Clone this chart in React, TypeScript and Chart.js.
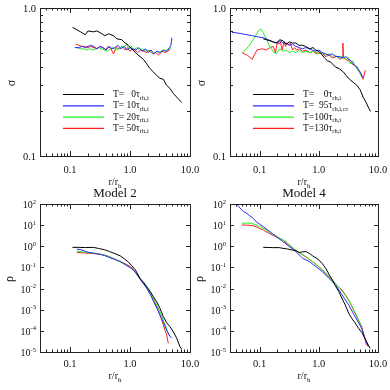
import React, { useEffect, useRef } from "react";
import { Chart, registerables } from "chart.js";
Chart.register(...registerables);

const SERIF = '"Liberation Serif", "Times New Roman", "DejaVu Serif", serif';

// ---------- tick values / labels ----------
const xMin = 0.0316;
const xMax = 10;
const xMajorTicks = [0.1, 1, 10];
const xMajorLabels = ["0.1", "1.0", "10.0"];
const xMinorTicks = [0.04, 0.05, 0.06, 0.07, 0.08, 0.09, 0.2, 0.3, 0.4, 0.5, 0.6, 0.7, 0.8, 0.9, 2, 3, 4, 5, 6, 7, 8, 9];
const sigmaMajorTicks = [0.1, 1];
const sigmaMajorLabels = ["0.1", "1.0"];
const sigmaMinorTicks = [0.2, 0.3, 0.4, 0.5, 0.6, 0.7, 0.8, 0.9];
const rhoExponents = [2, 1, 0, -1, -2, -3, -4, -5];

// ---------- legend text ----------
const model2Times = ["0", "10", "20", "50"];
const model2Subs = ["rh,i", "rh,i", "rh,i", "rh,i"];
const model4Times = ["0", "95", "100", "130"];
const model4Subs = ["rh,i", "rh,i,cc", "rh,i", "rh,i"];

// ---------- Model 2: sigma ----------
const m2SigR0 = [0.11, 0.15, 0.18, 0.2, 0.245, 0.28, 0.32, 0.38, 0.44, 0.53, 0.6, 0.73, 0.83, 0.94, 1.07, 1.29, 1.47, 1.67, 1.9, 2.15, 2.45, 2.78, 3.16, 3.59, 4.08, 4.64, 5.27, 6.0, 6.6, 7.26];
const m2Sig0 = [0.74, 0.69, 0.66, 0.7, 0.69, 0.7, 0.68, 0.65, 0.67, 0.65, 0.62, 0.61, 0.58, 0.56, 0.53, 0.49, 0.47, 0.45, 0.42, 0.39, 0.37, 0.35, 0.335, 0.33, 0.3, 0.286, 0.265, 0.25, 0.24, 0.23];
const m2SigR10 = [0.12, 0.14, 0.16, 0.18, 0.2, 0.22, 0.25, 0.28, 0.32, 0.36, 0.4, 0.45, 0.5, 0.56, 0.63, 0.7, 0.8, 0.9, 1.0, 1.1, 1.25, 1.4, 1.6, 1.8, 2.0, 2.25, 2.5, 2.8, 3.2, 3.6, 4.0, 4.5, 4.8, 5.0];
const m2Sig10 = [0.54, 0.54, 0.55, 0.54, 0.55, 0.56, 0.55, 0.53, 0.55, 0.54, 0.52, 0.55, 0.53, 0.54, 0.56, 0.53, 0.55, 0.52, 0.54, 0.53, 0.52, 0.54, 0.51, 0.53, 0.5, 0.52, 0.49, 0.51, 0.5, 0.52, 0.51, 0.53, 0.56, 0.63];
const m2SigR20 = [0.13, 0.15, 0.17, 0.19, 0.21, 0.24, 0.27, 0.3, 0.34, 0.38, 0.42, 0.47, 0.52, 0.58, 0.65, 0.72, 0.8, 0.88, 0.96, 1.05, 1.15, 1.3, 1.45, 1.6, 1.8, 2.0, 2.25, 2.5, 2.8, 3.1, 3.5, 3.9, 4.3, 4.8];
const m2Sig20 = [0.54, 0.53, 0.53, 0.52, 0.53, 0.52, 0.53, 0.54, 0.53, 0.52, 0.51, 0.53, 0.54, 0.52, 0.53, 0.55, 0.54, 0.57, 0.53, 0.55, 0.52, 0.54, 0.52, 0.53, 0.51, 0.52, 0.5, 0.49, 0.51, 0.5, 0.52, 0.51, 0.53, 0.54];
const m2SigR50 = [0.125, 0.14, 0.16, 0.18, 0.2, 0.22, 0.25, 0.28, 0.31, 0.35, 0.39, 0.43, 0.48, 0.53, 0.59, 0.66, 0.74, 0.82, 0.9, 1.0, 1.1, 1.2, 1.35, 1.5, 1.7, 1.9, 2.1, 2.4, 2.7, 3.0, 3.4, 3.8, 4.2, 4.6];
const m2Sig50 = [0.57, 0.56, 0.55, 0.55, 0.54, 0.55, 0.54, 0.53, 0.55, 0.54, 0.52, 0.55, 0.53, 0.49, 0.54, 0.53, 0.55, 0.52, 0.54, 0.51, 0.53, 0.52, 0.5, 0.52, 0.51, 0.5, 0.52, 0.49, 0.5, 0.48, 0.51, 0.5, 0.51, 0.52];

// ---------- Model 4: sigma ----------
const m4SigR0 = [0.115, 0.13, 0.15, 0.17, 0.19, 0.22, 0.25, 0.28, 0.32, 0.36, 0.41, 0.46, 0.53, 0.6, 0.7, 0.8, 0.89, 1.0, 1.1, 1.25, 1.4, 1.6, 1.9, 2.2, 2.6, 2.9, 3.3, 3.8, 4.4, 5.0, 5.6, 6.3, 7.0, 7.5];
const m4Sig0 = [0.62, 0.61, 0.6, 0.59, 0.58, 0.61, 0.6, 0.57, 0.59, 0.58, 0.58, 0.56, 0.56, 0.55, 0.53, 0.54, 0.52, 0.51, 0.49, 0.46, 0.44, 0.43, 0.4, 0.39, 0.37, 0.35, 0.33, 0.315, 0.3, 0.28, 0.25, 0.23, 0.21, 0.2];
const m4SigR95 = [0.034, 0.04, 0.05, 0.061, 0.075, 0.09, 0.115, 0.14, 0.17, 0.2, 0.22, 0.25, 0.28, 0.32, 0.36, 0.41, 0.47, 0.53, 0.6, 0.7, 0.78, 0.9, 1.0, 1.15, 1.3, 1.49, 1.7, 1.9, 2.2, 2.6, 2.9, 3.16, 3.5, 4.0, 4.4, 5.0, 5.6];
const m4Sig95 = [0.685, 0.68, 0.67, 0.66, 0.65, 0.64, 0.63, 0.61, 0.59, 0.58, 0.6, 0.58, 0.58, 0.56, 0.57, 0.55, 0.54, 0.53, 0.54, 0.53, 0.52, 0.51, 0.52, 0.5, 0.49, 0.48, 0.49, 0.47, 0.47, 0.46, 0.47, 0.45, 0.44, 0.41, 0.4, 0.37, 0.34];
const m4SigR100 = [0.052, 0.065, 0.08, 0.095, 0.105, 0.115, 0.13, 0.145, 0.157, 0.175, 0.19, 0.22, 0.25, 0.28, 0.32, 0.36, 0.41, 0.47, 0.53, 0.6, 0.7, 0.8, 0.9, 1.0, 1.15, 1.3, 1.5, 1.7, 1.9, 2.2, 2.5, 2.9, 3.2, 3.4, 3.7, 4.2, 4.8, 5.5];
const m4Sig100 = [0.5, 0.55, 0.62, 0.7, 0.72, 0.68, 0.62, 0.56, 0.53, 0.5, 0.49, 0.53, 0.51, 0.52, 0.5, 0.51, 0.5, 0.52, 0.5, 0.51, 0.5, 0.51, 0.5, 0.49, 0.5, 0.48, 0.49, 0.47, 0.48, 0.46, 0.47, 0.45, 0.46, 0.42, 0.44, 0.4, 0.37, 0.34];
const m4SigR130 = [0.05, 0.062, 0.075, 0.09, 0.11, 0.13, 0.15, 0.17, 0.185, 0.2, 0.21, 0.225, 0.24, 0.26, 0.275, 0.29, 0.31, 0.33, 0.36, 0.39, 0.42, 0.47, 0.53, 0.6, 0.7, 0.8, 0.9, 1.0, 1.15, 1.3, 1.5, 1.7, 2.0, 2.3, 2.5, 2.55, 2.62, 2.8, 3.2, 3.6, 4.0, 4.5, 5.0, 5.6, 6.1];
const m4Sig130 = [0.5, 0.48, 0.45, 0.52, 0.53, 0.52, 0.54, 0.55, 0.5, 0.59, 0.57, 0.59, 0.52, 0.59, 0.55, 0.58, 0.56, 0.58, 0.52, 0.54, 0.52, 0.53, 0.51, 0.52, 0.5, 0.51, 0.49, 0.5, 0.49, 0.47, 0.48, 0.46, 0.47, 0.45, 0.46, 0.58, 0.46, 0.45, 0.44, 0.42, 0.41, 0.39, 0.36, 0.33, 0.38];

// ---------- Model 2: rho ----------
const m2RhoR0 = [0.11, 0.14, 0.18, 0.245, 0.3, 0.38, 0.46, 0.56, 0.69, 0.8, 0.92, 1.07, 1.23, 1.47, 1.7, 1.9, 2.15, 2.45, 2.78, 3.16, 3.6, 4.08, 4.64, 5.27, 6.0, 6.8, 7.26];
const m2Rho0 = [0.89, 0.89, 0.87, 0.89, 0.79, 0.68, 0.56, 0.45, 0.35, 0.26, 0.19, 0.12, 0.076, 0.03, 0.019, 0.0123, 0.0076, 0.0042, 0.0024, 0.00117, 0.00047, 0.000245, 0.000158, 0.000091, 0.000045, 0.0000178, 0.0000138];
const m2RhoR10 = [0.13, 0.147, 0.17, 0.2, 0.25, 0.316, 0.38, 0.46, 0.56, 0.69, 0.85, 1.07, 1.25, 1.47, 1.7, 1.9, 2.2, 2.45, 2.8, 3.16, 3.6, 4.08, 4.64, 4.95];
const m2Rho10 = [0.74, 0.7, 0.62, 0.52, 0.47, 0.42, 0.36, 0.29, 0.24, 0.19, 0.13, 0.088, 0.055, 0.028, 0.016, 0.0103, 0.005, 0.0026, 0.0012, 0.00056, 0.00025, 0.00011, 0.000054, 0.000048];
const m2RhoR20 = [0.13, 0.15, 0.18, 0.22, 0.27, 0.32, 0.4, 0.5, 0.6, 0.75, 0.92, 1.07, 1.25, 1.47, 1.7, 1.95, 2.25, 2.6, 3.0, 3.4, 3.8, 4.35];
const m2Rho20 = [0.6, 0.56, 0.52, 0.49, 0.46, 0.42, 0.36, 0.28, 0.22, 0.16, 0.12, 0.085, 0.055, 0.03, 0.017, 0.0098, 0.0052, 0.0026, 0.0011, 0.0005, 0.00021, 0.00007];
const m2RhoR50 = [0.13, 0.16, 0.2, 0.25, 0.316, 0.38, 0.46, 0.6, 0.75, 0.92, 1.07, 1.23, 1.47, 1.7, 1.9, 2.2, 2.45, 2.8, 3.16, 3.6, 4.08, 4.35];
const m2Rho50 = [0.51, 0.49, 0.47, 0.45, 0.42, 0.38, 0.32, 0.22, 0.17, 0.13, 0.095, 0.06, 0.03, 0.017, 0.0105, 0.0055, 0.0029, 0.0013, 0.00056, 0.00019, 0.000063, 0.000026];

// ---------- Model 4: rho ----------
const m4RhoR0 = [0.115, 0.14, 0.17, 0.21, 0.248, 0.3, 0.36, 0.42, 0.47, 0.54, 0.61, 0.7, 0.78, 0.9, 1.01, 1.15, 1.31, 1.5, 1.7, 1.95, 2.18, 2.5, 2.8, 3.2, 3.6, 4.1, 4.7, 5.3, 6.0, 6.7, 7.4];
const m4Rho0 = [0.89, 0.88, 0.86, 0.87, 0.8, 0.74, 0.66, 0.6, 0.51, 0.55, 0.56, 0.45, 0.36, 0.28, 0.22, 0.15, 0.091, 0.045, 0.025, 0.012, 0.0071, 0.0032, 0.00166, 0.00068, 0.00039, 0.00024, 0.000132, 0.000085, 0.000045, 0.000024, 0.0000148];
const m4RhoR95 = [0.041, 0.053, 0.061, 0.069, 0.078, 0.089, 0.101, 0.115, 0.149, 0.192, 0.248, 0.32, 0.41, 0.535, 0.69, 0.89, 1.15, 1.49, 1.92, 2.47, 3.2, 4.1, 5.3, 6.0, 6.8];
const m4Rho95 = [96, 44, 36, 27, 21, 14, 11, 8.5, 4.9, 2.85, 1.66, 0.96, 0.56, 0.27, 0.19, 0.11, 0.063, 0.03, 0.0148, 0.005, 0.00166, 0.00047, 0.000132, 0.000045, 0.0000178];
const m4RhoR100 = [0.05, 0.062, 0.073, 0.085, 0.101, 0.125, 0.149, 0.18, 0.22, 0.28, 0.34, 0.41, 0.5, 0.61, 0.78, 1.0, 1.3, 1.7, 2.2, 2.8, 3.4, 4.1, 5.0, 5.8];
const m4Rho100 = [12.3, 12.5, 12.3, 10.5, 8.5, 6.3, 4.4, 3.4, 2.4, 1.66, 1.0, 0.66, 0.45, 0.32, 0.19, 0.11, 0.055, 0.025, 0.0115, 0.0048, 0.0021, 0.00075, 0.00022, 0.00006];
const m4RhoR130 = [0.05, 0.062, 0.078, 0.095, 0.115, 0.14, 0.17, 0.2, 0.248, 0.3, 0.36, 0.44, 0.535, 0.65, 0.78, 0.95, 1.15, 1.4, 1.7, 2.05, 2.47, 3.2, 4.1, 5.3, 6.4];
const m4Rho130 = [10.2, 10.0, 9.5, 7.5, 5.9, 4.3, 3.2, 2.6, 2.0, 1.2, 0.79, 0.55, 0.39, 0.27, 0.19, 0.12, 0.076, 0.042, 0.025, 0.014, 0.0085, 0.0029, 0.00068, 0.00016, 0.0000214];

const COLORS = ["#000000", "#2a2aff", "#22ee22", "#ff1f1f"];

type Series = { r: number[]; v: number[] };
type PanelCfg = {
  key: string;
  L: number; R: number; T: number; B: number;
  kind: "sigma" | "rho";
  series: Series[];
  legendTimes?: string[];
  legendSubs?: string[];
  legendPad?: string;
  title?: string;
};

const panels: PanelCfg[] = [
  { key: "tl", L: 40, R: 190, T: 8, B: 156, kind: "sigma",
    series: [{ r: m2SigR0, v: m2Sig0 }, { r: m2SigR10, v: m2Sig10 }, { r: m2SigR20, v: m2Sig20 }, { r: m2SigR50, v: m2Sig50 }],
    legendTimes: model2Times, legendSubs: model2Subs, legendPad: " 00" },
  { key: "tr", L: 230, R: 378, T: 8, B: 156, kind: "sigma",
    series: [{ r: m4SigR0, v: m4Sig0 }, { r: m4SigR95, v: m4Sig95 }, { r: m4SigR100, v: m4Sig100 }, { r: m4SigR130, v: m4Sig130 }],
    legendTimes: model4Times, legendSubs: model4Subs, legendPad: "000" },
  { key: "bl", L: 40, R: 190, T: 204, B: 352, kind: "rho", title: "Model 2",
    series: [{ r: m2RhoR0, v: m2Rho0 }, { r: m2RhoR10, v: m2Rho10 }, { r: m2RhoR20, v: m2Rho20 }, { r: m2RhoR50, v: m2Rho50 }] },
  { key: "br", L: 230, R: 378, T: 204, B: 352, kind: "rho", title: "Model 4",
    series: [{ r: m4RhoR0, v: m4Rho0 }, { r: m4RhoR95, v: m4Rho95 }, { r: m4RhoR100, v: m4Rho100 }, { r: m4RhoR130, v: m4Rho130 }] },
];

type Part = { t: string; size: number; dy: number };
function drawRich(ctx: CanvasRenderingContext2D, parts: Part[], x: number, y: number, align: "left" | "center" | "right") {
  let total = 0;
  const widths = parts.map((p) => {
    ctx.font = `${p.size}px ${SERIF}`;
    const w = ctx.measureText(p.t).width;
    total += w;
    return w;
  });
  let cx = align === "left" ? x : align === "center" ? x - total / 2 : x - total;
  ctx.textAlign = "left";
  ctx.textBaseline = "alphabetic";
  parts.forEach((p, i) => {
    ctx.font = `${p.size}px ${SERIF}`;
    ctx.fillText(p.t, cx, y + p.dy);
    cx += widths[i];
  });
}

function makePlugin(cfg: PanelCfg) {
  return {
    id: "idlFrame" + cfg.key,
    afterDatasetsDraw(chart: any) {
      const ctx: CanvasRenderingContext2D = chart.ctx;
      const a = chart.chartArea;
      const xs = chart.scales.x;
      const ys = chart.scales.y;
      ctx.save();
      ctx.strokeStyle = "#222";
      ctx.fillStyle = "#111";
      ctx.lineWidth = 1;
      // frame
      ctx.strokeRect(a.left + 0.5, a.top + 0.5, a.right - a.left, a.bottom - a.top);
      // ticks
      ctx.beginPath();
      const xt = (vals: number[], len: number) => {
        for (const v of vals) {
          const p = Math.round(xs.getPixelForValue(v)) + 0.5;
          ctx.moveTo(p, a.bottom); ctx.lineTo(p, a.bottom - len);
          ctx.moveTo(p, a.top); ctx.lineTo(p, a.top + len);
        }
      };
      const yt = (vals: number[], len: number) => {
        for (const v of vals) {
          const p = Math.round(ys.getPixelForValue(v)) + 0.5;
          ctx.moveTo(a.left, p); ctx.lineTo(a.left + len, p);
          ctx.moveTo(a.right, p); ctx.lineTo(a.right - len, p);
        }
      };
      xt(xMajorTicks, 5);
      xt(xMinorTicks, 2.5);
      if (cfg.kind === "sigma") {
        yt(sigmaMinorTicks, 3);
      } else {
        yt(rhoExponents.map((e) => Math.pow(10, e)), 4);
      }
      ctx.stroke();

      // x tick labels
      const bottomPanel = cfg.kind === "rho";
      const xlabBase = a.bottom + (bottomPanel ? 15 : 17);
      ctx.font = `10.5px ${SERIF}`;
      ctx.textAlign = "center";
      ctx.textBaseline = "alphabetic";
      xMajorTicks.forEach((v, i) => {
        ctx.fillText(xMajorLabels[i], xs.getPixelForValue(v), xlabBase);
      });
      // x title r/r_h
      const xtBase = a.bottom + (bottomPanel ? 27 : 29);
      drawRich(ctx, [
        { t: "r/r", size: 10, dy: 0 },
        { t: "h", size: 7, dy: 3 },
      ], (a.left + a.right) / 2, xtBase, "center");

      // y tick labels
      if (cfg.kind === "sigma") {
        ctx.font = `10.5px ${SERIF}`;
        ctx.textAlign = "right";
        ctx.textBaseline = "middle";
        sigmaMajorTicks.forEach((v, i) => {
          ctx.fillText(sigmaMajorLabels[i], a.left - 4, ys.getPixelForValue(v) + 1.5);
        });
      } else {
        rhoExponents.forEach((e) => {
          const py = ys.getPixelForValue(Math.pow(10, e));
          drawRich(ctx, [
            { t: "10", size: 10, dy: 0 },
            { t: String(e), size: 6.5, dy: -4.5 },
          ], a.left - 4, py + 4, "right");
        });
      }

      // y axis title (rotated)
      ctx.save();
      const ytx = a.left - (cfg.kind === "sigma" ? 28 : 30);
      const yty = (a.top + a.bottom) / 2 + 1;
      ctx.translate(ytx, yty);
      ctx.rotate(-Math.PI / 2);
      ctx.font = `12px ${SERIF}`;
      ctx.textAlign = "center";
      ctx.textBaseline = "middle";
      ctx.fillText(cfg.kind === "sigma" ? "σ" : "ρ", 0, 0);
      ctx.restore();

      // title
      if (cfg.title) {
        ctx.font = `13px ${SERIF}`;
        ctx.textAlign = "center";
        ctx.textBaseline = "alphabetic";
        ctx.fillText(cfg.title, (a.left + a.right) / 2, a.top - 7);
      }

      // legend
      if (cfg.legendTimes && cfg.legendSubs) {
        for (let i = 0; i < cfg.legendTimes.length; i++) {
          const ly = a.top + 86 + i * 11.3;
          ctx.beginPath();
          ctx.strokeStyle = COLORS[i];
          ctx.lineWidth = 1.2;
          ctx.moveTo(a.left + 23, ly + 0.5);
          ctx.lineTo(a.left + 64, ly + 0.5);
          ctx.stroke();
          const tx = a.left + 73;
          const base = ly + 3;
          ctx.fillStyle = "#111";
          ctx.font = `9.5px ${SERIF}`;
          ctx.textAlign = "left";
          ctx.textBaseline = "alphabetic";
          ctx.fillText("T=", tx, base);
          const wT = ctx.measureText("T=").width;
          const wPad = ctx.measureText(cfg.legendPad || "000").width;
          ctx.textAlign = "right";
          ctx.fillText(cfg.legendTimes[i], tx + wT + wPad, base);
          drawRich(ctx, [
            { t: "τ", size: 9.5, dy: 0 },
            { t: cfg.legendSubs[i], size: 6.5, dy: 2.5 },
          ], tx + wT + wPad, base, "left");
        }
      }
      ctx.restore();
    },
  };
}

function Panel({ cfg }: { cfg: PanelCfg }) {
  const ref = useRef<HTMLCanvasElement | null>(null);
  useEffect(() => {
    if (!ref.current) return;
    const chart = new Chart(ref.current, {
      type: "line",
      data: {
        datasets: cfg.series.map((s, i) => ({
          data: s.r.map((x, j) => ({ x, y: s.v[j] })),
          borderColor: COLORS[i],
          borderWidth: 1,
          pointRadius: 0,
          fill: false,
          tension: 0,
        })),
      },
      options: {
        responsive: false,
        animation: false,
        devicePixelRatio: 1,
        events: [],
        layout: {
          padding: { left: cfg.L, top: cfg.T, right: 390 - cfg.R, bottom: 390 - cfg.B },
        },
        plugins: {
          legend: { display: false },
          tooltip: { enabled: false },
          title: { display: false },
        },
        scales: {
          x: { type: "logarithmic", min: xMin, max: xMax, display: false },
          y: cfg.kind === "sigma"
            ? { type: "logarithmic", min: 0.1, max: 1, display: false }
            : { type: "logarithmic", min: 1e-5, max: 100, display: false },
        },
      } as any,
      plugins: [makePlugin(cfg)],
    });
    return () => chart.destroy();
  }, []);
  return (
    <canvas
      ref={ref}
      width={390}
      height={390}
      style={{ position: "absolute", left: 0, top: 0, width: 390, height: 390 }}
    />
  );
}

export default function App() {
  return (
    <div style={{ position: "fixed", left: 0, top: 0, width: 390, height: 390, background: "#fff", overflow: "hidden" }}>
      {panels.map((p) => (
        <Panel key={p.key} cfg={p} />
      ))}
    </div>
  );
}
